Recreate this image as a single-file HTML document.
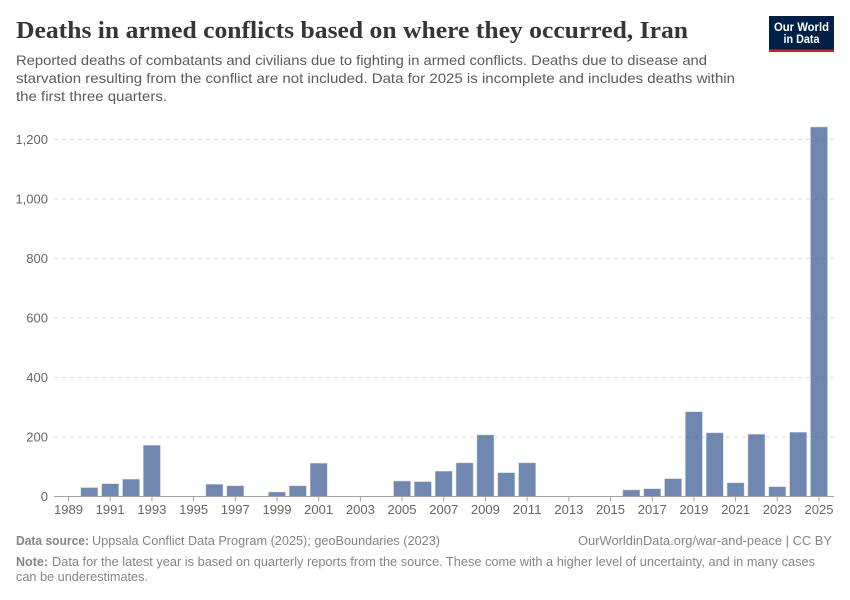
<!DOCTYPE html>
<html lang="en">
<head>
<meta charset="utf-8">
<title>Deaths in armed conflicts based on where they occurred, Iran</title>
<style>
html,body{margin:0;padding:0;background:#fff;}
svg{display:block;}
text{font-family:"Liberation Sans",sans-serif;}
.sub{font-size:14px;fill:#5b5b5b;}
.foot{font-size:12.6px;fill:#858585;}
.tick{font-size:13px;fill:#666;}
</style>
</head>
<body>
<svg id="chart" width="850" height="600" viewBox="0 0 850 600" xmlns="http://www.w3.org/2000/svg">
  <rect x="0" y="0" width="850" height="600" fill="#fff"/>
  <text x="16" y="38" font-size="24" font-weight="700" fill="#363636" textLength="672" lengthAdjust="spacingAndGlyphs" style='font-family:"Liberation Serif",serif'>Deaths in armed conflicts based on where they occurred, Iran</text>
  <g>
    <text class="sub" x="16" y="65" textLength="691" lengthAdjust="spacingAndGlyphs">Reported deaths of combatants and civilians due to fighting in armed conflicts. Deaths due to disease and</text>
    <text class="sub" x="16" y="83" textLength="719" lengthAdjust="spacingAndGlyphs">starvation resulting from the conflict are not included. Data for 2025 is incomplete and includes deaths within</text>
    <text class="sub" x="16" y="101" textLength="151" lengthAdjust="spacingAndGlyphs">the first three quarters.</text>
  </g>
  <g>
    <rect x="769" y="16" width="65" height="36" fill="#002147"/>
    <rect x="769" y="49.5" width="65" height="2.5" fill="#ce261e"/>
    <text x="801.5" y="31" font-size="11.5" font-weight="700" fill="#fff" text-anchor="middle" textLength="55" lengthAdjust="spacingAndGlyphs">Our World</text>
    <text x="801.5" y="43" font-size="11.5" font-weight="700" fill="#fff" text-anchor="middle" textLength="36" lengthAdjust="spacingAndGlyphs">in Data</text>
  </g>
  <g id="grid"></g>
  <g id="bars"></g>
  <g id="axes"></g>
  <g>
    <text class="foot" x="16" y="545" font-weight="700" textLength="73" lengthAdjust="spacingAndGlyphs">Data source:</text>
    <text class="foot" x="92" y="545" textLength="348" lengthAdjust="spacingAndGlyphs">Uppsala Conflict Data Program (2025); geoBoundaries (2023)</text>
    <text class="foot" x="578" y="545" textLength="254" lengthAdjust="spacingAndGlyphs">OurWorldinData.org/war-and-peace | CC BY</text>
    <text class="foot" x="16" y="566" font-weight="700" textLength="32" lengthAdjust="spacingAndGlyphs">Note:</text>
    <text class="foot" x="52" y="566" textLength="763" lengthAdjust="spacingAndGlyphs">Data for the latest year is based on quarterly reports from the source. These come with a higher level of uncertainty, and in many cases</text>
    <text class="foot" x="16" y="581" textLength="132" lengthAdjust="spacingAndGlyphs">can be underestimates.</text>
  </g>
</svg>
<script>
const years = [1989,1990,1991,1992,1993,1994,1995,1996,1997,1998,1999,2000,2001,2002,2003,2004,2005,2006,2007,2008,2009,2010,2011,2012,2013,2014,2015,2016,2017,2018,2019,2020,2021,2022,2023,2024,2025];
const deaths = [0,30,43,58,172,0,0,41,36,0,15,36,112,0,0,0,52,50,85,113,207,80,113,0,0,0,0,22,26,60,285,214,46,209,33,216,1242];
const yTicks = [0,200,400,600,800,1000,1200];
const yTickLabels = ["0","200","400","600","800","1,000","1,200"];
const xTicks = [1989,1991,1993,1995,1997,1999,2001,2003,2005,2007,2009,2011,2013,2015,2017,2019,2021,2023,2025];

const NS = "http://www.w3.org/2000/svg";
const xScale = function (year) { return 68.5 + (year - 1989) * (819 - 68.5) / (2025 - 1989); };
const yScale = function (value) { return 496.5 - value * (357 / 1200); };
const BAR_W = 17;

function make(tag, attrs, parent) {
  const el = document.createElementNS(NS, tag);
  Object.keys(attrs).forEach(function (k) { el.setAttribute(k, attrs[k]); });
  parent.appendChild(el);
  return el;
}

const gridG = document.getElementById("grid");
const barsG = document.getElementById("bars");
const axesG = document.getElementById("axes");

yTicks.forEach(function (v, i) {
  if (v !== 0) {
    const line = make("line", {x1: 54, x2: 834, y1: yScale(v), y2: yScale(v), stroke: "#dddddd", "stroke-width": 1, "stroke-dasharray": "4,4"}, gridG);
    
    
  }
  const label = make("text", {x: 48, y: yScale(v) + 4.5, "text-anchor": "end", class: "tick"}, axesG);
  label.textContent = yTickLabels[i];
  
  
});

years.forEach(function (yr, i) {
  const v = deaths[i];
  if (v <= 0) return;
  const bar = make("rect", {x: xScale(yr) - BAR_W / 2, y: yScale(v), width: BAR_W, height: yScale(0) - yScale(v), fill: "#4c6a9c", "fill-opacity": 0.8, stroke: "#c6d0e1", "stroke-width": 0.5}, barsG);
  
  
});

const axisLine = make("line", {x1: 54, x2: 834, y1: 496.5, y2: 496.5, stroke: "#a1a1a1", "stroke-width": 1}, axesG);



xTicks.forEach(function (yr) {
  const tick = make("line", {x1: xScale(yr), x2: xScale(yr), y1: 496.5, y2: 501.5, stroke: "#a1a1a1", "stroke-width": 1}, axesG);
  
  
  const label = make("text", {x: xScale(yr), y: 514, "text-anchor": "middle", class: "tick", textLength: 29, lengthAdjust: "spacingAndGlyphs"}, axesG);
  label.textContent = String(yr);
  
  
});
</script>
</body>
</html>
